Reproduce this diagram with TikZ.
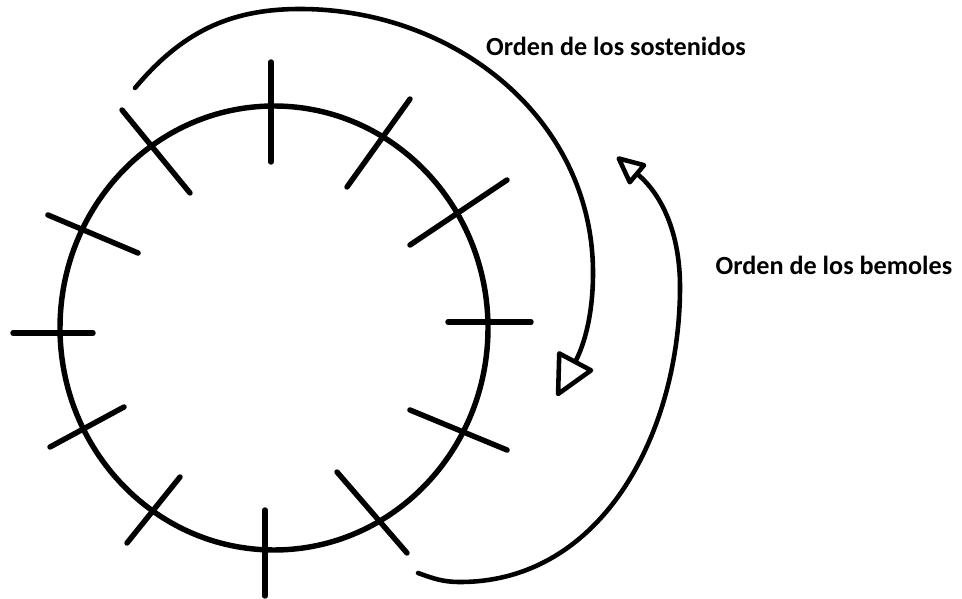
\documentclass[tikz,border=0pt]{standalone}
\usepackage{fontspec}
\setmainfont{Carlito}
\usetikzlibrary{arrows.meta}

\begin{document}
\begin{tikzpicture}[x=0.02cm,y=0.02cm,
  aro/.style={line width=3.1pt},
  marca/.style={line width=3.1pt,line cap=round},
  orden/.style={line width=2.6pt,line cap=round},
  rotulo/.style={font=\bfseries\fontsize{14.9}{17}\selectfont,inner sep=0pt}]
\useasboundingbox (0,0) rectangle (962,598);

\draw[aro] (274,270) ellipse [x radius=214, y radius=222];

\draw[marca] (271,536)--(271,436);
\draw[marca] (410,499)--(347,411);
\draw[marca] (507,418)--(410,353);
\draw[marca] (448,276)--(531,276);
\draw[marca] (410,188)--(507,148);
\draw[marca] (337,126)--(407,45);
\draw[marca] (265,88)--(265,2);
\draw[marca] (180,121)--(127,55);
\draw[marca] (124,191)--(50,151);
\draw[marca] (13,265)--(93,265);
\draw[marca] (48,383)--(138,345);
\draw[marca] (122,488)--(190,405);

\coordinate (s0) at (135,510);
\coordinate (stop) at (300,589);
\coordinate (sright) at (593,325);
\coordinate (s1) at (557,202);
\coordinate (b0) at (418,25);
\coordinate (bbot) at (460,16);
\coordinate (bright) at (680,311);
\coordinate (b1) at (617,441);

\draw[orden,-{Triangle[open,round,length=25pt,width=24pt]}] (s0) to[out=50,in=180] (stop) to[out=0,in=90] (sright) to[out=-90,in=62] (s1);
\draw[orden,-{Triangle[open,round,length=18pt,width=16pt]}] (b0) to[out=-20,in=180] (bbot) to[out=0,in=-90] (bright) to[out=90,in=-40] (b1);

\node[rotulo] (sost) at (616,552) {Orden de los sostenidos};
\node[rotulo] (bem) at (834,333) {Orden de los bemoles};
\end{tikzpicture}
\end{document}
